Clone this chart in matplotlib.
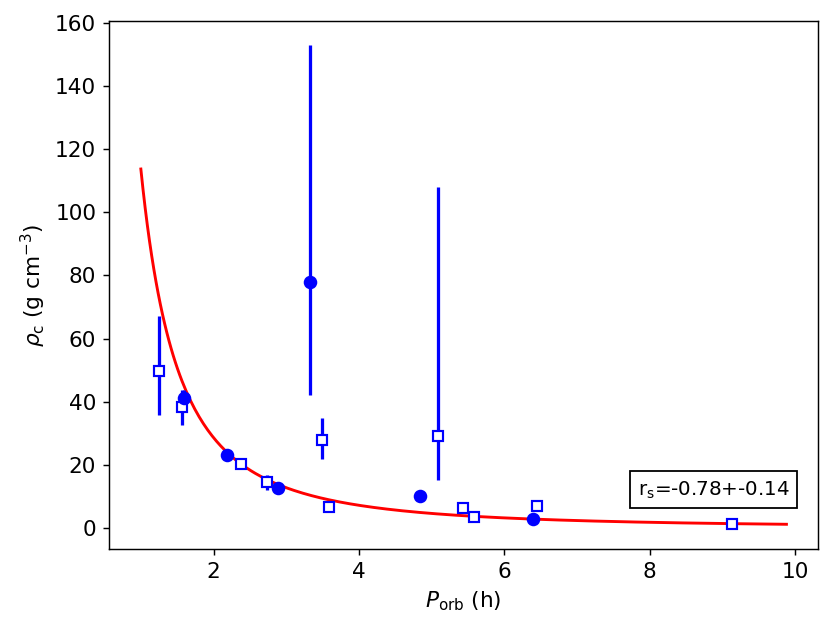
import numpy as np
import matplotlib
matplotlib.use('Agg')
import matplotlib.pyplot as plt

# open squares
sq_p = [1.25, 1.56, 2.38, 2.74, 3.49, 3.59, 5.09, 5.43, 5.58, 6.45, 9.13]
sq_rho = [49.8, 38.3, 20.3, 14.7, 28.0, 6.65, 29.0, 6.2, 3.6, 7.0, 1.2]
sq_lo = [14.0, 5.7, 0.0, 2.7, 6.1, 0.0, 13.8, 0.0, 0.0, 0.0, 0.0]
sq_hi = [17.4, 5.4, 0.0, 2.1, 6.8, 0.0, 79.0, 0.0, 0.0, 0.0, 0.0]

# filled circles
ci_p = [1.60, 2.18, 2.89, 3.32, 4.84, 6.39]
ci_rho = [41.3, 23.1, 12.7, 77.9, 10.0, 2.85]
ci_lo = [2.5, 0.0, 0.0, 35.8, 0.0, 0.0]
ci_hi = [2.4, 0.0, 0.0, 75.1, 0.0, 0.0]

# power-law fit rho = A * P^b
fit_amp = 113.7
fit_index = -1.99
fit_pmin, fit_pmax = 1.0, 9.88

fig, ax = plt.subplots(figsize=(831 / 130, 634 / 130), dpi=130)
fig.subplots_adjust(left=0.131, right=0.984, top=0.967, bottom=0.134)

pfit = np.linspace(fit_pmin, fit_pmax, 300)
ax.plot(pfit, fit_amp * pfit ** fit_index, c='red', lw=1.6, zorder=1)

ax.errorbar(sq_p, sq_rho, yerr=[sq_lo, sq_hi], fmt='s', color='blue',
            mfc='white', mec='blue', mew=1.2, ms=6, elinewidth=1.8, capsize=0, zorder=3)
ax.errorbar(ci_p, ci_rho, yerr=[ci_lo, ci_hi], fmt='o', color='blue',
            ms=6.5, elinewidth=1.8, capsize=0, zorder=3)

ax.set_xlim(0.56, 10.31)
ax.set_ylim(-6.65, 160.6)
ax.set_xticks([2, 4, 6, 8, 10])
ax.set_yticks(range(0, 161, 20))

ax.set_xlabel(r'$P_{\rm orb}$ (h)', fontsize=12)
ax.set_ylabel(r'$\rho_{\rm c}$ (g cm$^{-3}$)', fontsize=12)
ax.tick_params(axis='both', which='major', labelsize=12)

ax.text(0.853, 0.112, r'r$_{\rm s}$=-0.78+-0.14', transform=ax.transAxes,
        ha='center', va='center', fontsize=11,
        bbox=dict(boxstyle='square,pad=0.4', fc='white', ec='black', lw=1.0))

fig.savefig('out.png', dpi=130)
